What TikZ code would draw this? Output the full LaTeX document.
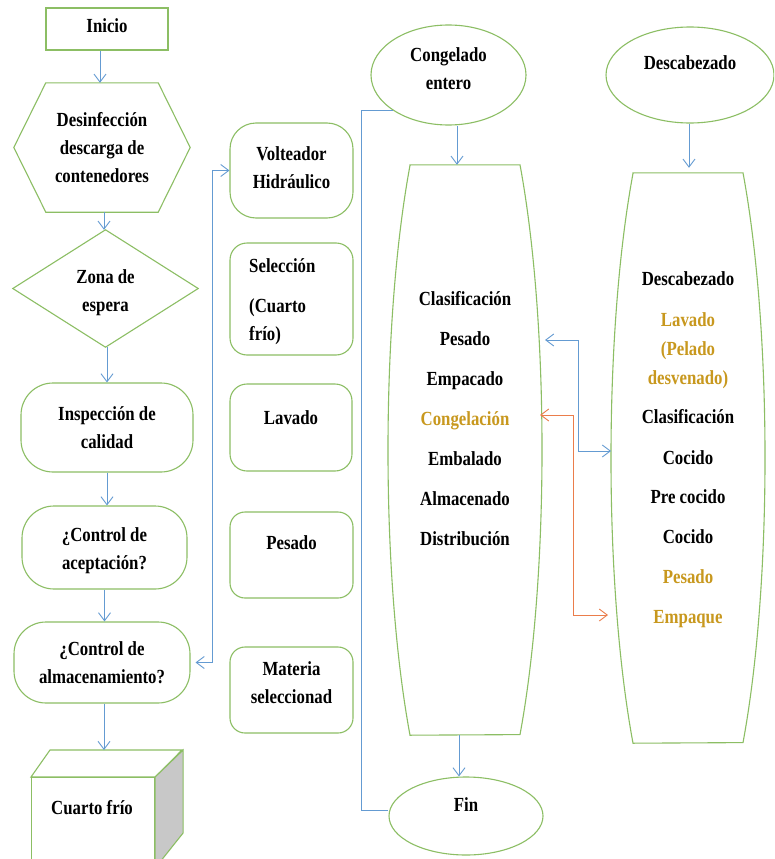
\documentclass[tikz,border=0pt]{standalone}
\usepackage{fontspec}
\setmainfont{Liberation Serif}[FakeStretch=0.84]
\usetikzlibrary{shapes.geometric,arrows.meta,calc}
\definecolor{gcol}{RGB}{140,190,100}
\definecolor{bcol}{RGB}{100,155,210}
\definecolor{ocol}{RGB}{235,125,75}
\definecolor{gold}{RGB}{200,152,30}
\definecolor{cubegray}{RGB}{200,200,200}
\begin{document}
\begin{tikzpicture}[x=1pt,y=-1pt,
  gbox/.style={draw=gcol, line width=1.1pt},
  txt/.style={font=\bfseries\fontsize{20}{28}\selectfont, inner sep=0pt, align=center},
  arr/.style={draw=bcol, line width=0.9pt, -{Straight Barb[length=8pt,width=12pt]}},
  dbl/.style={draw=bcol, line width=0.9pt, {Straight Barb[length=8pt,width=12pt]}-{Straight Barb[length=8pt,width=12pt]}},
  odbl/.style={dbl, draw=ocol},
  bline/.style={draw=bcol, line width=0.9pt}]
\fill[white] (0,0) rectangle (774,859);
\clip (0,0) rectangle (774,859);

% left column
\node[gbox, minimum width=122pt, minimum height=42pt] (inicio) at (107,29) {};
\node[txt] (iniciot) at (107,26) {Inicio};
\node[txt, minimum width=176pt, minimum height=129pt] (hex) at (102,147.5) {Desinfección\\descarga de\\contenedores};
\draw[gbox] (hex.west) -- ([xshift=32pt]hex.north west) -- ([xshift=-32pt]hex.north east) -- (hex.east) -- ([xshift=-32pt]hex.south east) -- ([xshift=32pt]hex.south west) -- cycle;
\node[minimum width=185pt, minimum height=117pt] (zona) at (105.5,288.5) {};
\draw[gbox] (zona.north) -- (zona.east) -- (zona.south) -- (zona.west) -- cycle;
\node[txt] (zonat) at (105.5,292.5) {Zona de\\espera};
\node[gbox, txt, rounded corners=32pt, minimum width=172pt, minimum height=89pt] (insp) at (107,427.5) {Inspección de\\calidad};
\node[gbox, rounded corners=32pt, minimum width=165pt, minimum height=83pt] (acep) at (104.5,547.5) {};
\node[txt] (acept) at (104.5,550.5) {¿Control de\\aceptación?};
\node[gbox, txt, rounded corners=32pt, minimum width=176pt, minimum height=81pt] (alm) at (102,662.5) {¿Control de\\almacenamiento?};

% cube
\node[gbox, minimum width=123pt, minimum height=90pt, anchor=north west] (cubo) at (31,777) {};
\draw[gbox] (cubo.north west) -- ++(19,-27) -- ++(132,0) -- (cubo.north east) -- cycle;
\draw[gbox, fill=cubegray] (cubo.north east) -- ++(28,-27) -- ++(0,83) -- (cubo.south east) -- cycle;
\node[txt] (cubot) at (92,808) {Cuarto frío};
\coordinate (ctop) at (104,750);

% middle column
\node[gbox, rounded corners=26pt, minimum width=123pt, minimum height=95pt] (volt) at (291.5,170.5) {};
\node[txt] (voltt) at (291.5,167.5) {Volteador\\Hidráulico};
\node[gbox, rounded corners=17pt, minimum width=123pt, minimum height=112pt] (sel) at (291.5,299) {};
\node[txt, align=left, anchor=west] (selt) at (249,301.5) {Selección\\[12pt](Cuarto\\frío)};
\node[gbox, rounded corners=17pt, minimum width=122pt, minimum height=87pt] (lav) at (291,427.5) {};
\node[txt] (lavt) at (291,418) {Lavado};
\node[gbox, rounded corners=15pt, minimum width=123pt, minimum height=86pt] (pes) at (291.5,555) {};
\node[txt] (pest) at (291.5,543) {Pesado};
\node[gbox, rounded corners=15pt, minimum width=123pt, minimum height=86pt] (mat) at (291.5,690) {};
\node[txt] (matt) at (291.5,682.5) {Materia\\seleccionad};

% ellipses
\node[gbox, ellipse, inner sep=0pt, minimum width=155pt, minimum height=100pt] (cong) at (448.5,75) {};
\node[txt] (congt) at (448.5,69) {Congelado\\entero};
\node[gbox, ellipse, inner sep=0pt, minimum width=168pt, minimum height=96pt] (desc) at (690,75) {};
\node[txt] (desct) at (690,63) {Descabezado};
\node[gbox, ellipse, inner sep=0pt, minimum width=154pt, minimum height=78pt] (fin) at (466,816) {};
\node[txt] (fint) at (466,805) {Fin};

% tall shapes
\node[inner sep=0pt, minimum width=154pt, minimum height=570pt] (t1) at (465,450) {};
\draw[gbox] ([xshift=-55pt]t1.north) -- ([xshift=55pt]t1.north) arc[start angle=-44.43, end angle=44.43, x radius=77, y radius=407] -- ([xshift=-55pt]t1.south) arc[start angle=135.57, end angle=224.43, x radius=77, y radius=407] -- cycle;
\node[inner sep=0pt, minimum width=154pt, minimum height=570pt] (t2) at (688,458) {};
\draw[gbox] ([xshift=-55pt]t2.north) -- ([xshift=55pt]t2.north) arc[start angle=-44.43, end angle=44.43, x radius=77, y radius=407] -- ([xshift=-55pt]t2.south) arc[start angle=135.57, end angle=224.43, x radius=77, y radius=407] -- cycle;

\node[txt, font=\bfseries\fontsize{20}{40}\selectfont] (t1t) at (465,418.5) {Clasificación\\Pesado\\Empacado\\\textcolor{gold}{Congelación}\\Embalado\\Almacenado\\Distribución};
\node[txt] (t2t) at (688,450) {Descabezado\\[13pt]\textcolor{gold}{Lavado}\\[1pt]\textcolor{gold}{(Pelado}\\[1pt]\textcolor{gold}{desvenado)}\\[11pt]Clasificación\\[13pt]Cocido\\[11pt]Pre cocido\\[12pt]Cocido\\[12pt]\textcolor{gold}{Pesado}\\[12pt]\textcolor{gold}{Empaque}};

% connectors left
\draw[arr] ([xshift=-7pt]inicio.south) -- ([xshift=-7pt]inicio.south |- hex.north);
\draw[arr] ([xshift=2pt]hex.south) -- ([xshift=2pt]hex.south |- zona.north);
\draw[arr] ([xshift=1.5pt]zona.south) -- ([xshift=1.5pt]zona.south |- insp.north);
\draw[arr] (insp.south) -- (insp.south |- acep.north);
\draw[arr] (acep.south) -- (acep.south |- alm.north);
\draw[arr] ([xshift=2pt]alm.south) -- (ctop);
\draw[dbl] ([xshift=5pt]alm.east) -- ++(17,0) |- (volt.west);

% connectors right
\draw[arr] ([xshift=8.5pt]cong.south) -- ([xshift=8.5pt]cong.south |- t1.north);
\draw[arr, shorten >=5pt] ([xshift=-1pt]desc.south) -- ([xshift=-1pt]desc.south |- t2.north);
\draw[arr] ([xshift=-6pt]t1.south) -- ([xshift=-6pt]t1.south |- fin.north);
\draw[bline] (cong.south west) -- ++(-31.7,0) |- ([yshift=6pt]fin.west);

\coordinate (b1) at (545,340);
\coordinate (b2) at (611,451);
\coordinate (o1) at (540,415);
\coordinate (o2) at (608,615);
\draw[dbl] (b1) -- ++(33,0) |- (b2);
\draw[odbl] (o1) -- ++(33,0) |- (o2);
\end{tikzpicture}
\end{document}
